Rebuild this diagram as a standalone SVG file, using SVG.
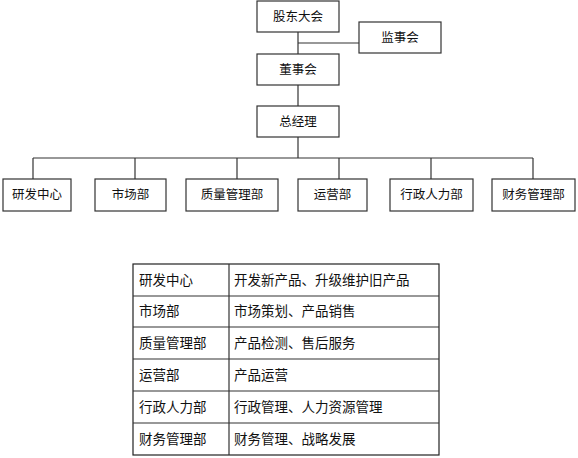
<svg xmlns="http://www.w3.org/2000/svg" width="578" height="458" viewBox="0 0 578 458">
<style>
.box{fill:#fff;stroke:#333;stroke-width:1.2}
.ln{stroke:#333;stroke-width:1.2;fill:none}
.t{font-family:"Liberation Sans","Noto Sans CJK SC",sans-serif;font-size:12.5px;fill:#111;text-anchor:middle;dominant-baseline:central}
.tt{font-family:"Liberation Sans","Noto Sans CJK SC",sans-serif;font-size:13.5px;fill:#111;dominant-baseline:central}
</style>
<rect width="578" height="458" fill="#fff"/>
<g id="connectors">
<line class="ln" x1="298" y1="32" x2="298" y2="54"/>
<line class="ln" x1="298" y1="43" x2="359" y2="43"/>
<line class="ln" x1="298" y1="85" x2="298" y2="106"/>
<line class="ln" x1="298" y1="137" x2="298" y2="158"/>
<line class="ln" x1="33" y1="158" x2="533" y2="158"/>
<line class="ln" x1="33" y1="158" x2="33" y2="179"/>
<line class="ln" x1="135" y1="158" x2="135" y2="179"/>
<line class="ln" x1="237" y1="158" x2="237" y2="179"/>
<line class="ln" x1="339" y1="158" x2="339" y2="179"/>
<line class="ln" x1="431" y1="158" x2="431" y2="179"/>
<line class="ln" x1="533" y1="158" x2="533" y2="179"/>
</g>
<g id="n-gudong"><rect class="box" x="257" y="1" width="82" height="31"/><text class="t" x="298" y="16.5">股东大会</text></g>
<g id="n-jianshi"><rect class="box" x="359" y="22" width="82" height="31"/><text class="t" x="400" y="37.5">监事会</text></g>
<g id="n-dongshi"><rect class="box" x="257" y="54" width="82" height="31"/><text class="t" x="298" y="69.5">董事会</text></g>
<g id="n-zongjingli"><rect class="box" x="257" y="106" width="82" height="31"/><text class="t" x="298" y="121.5">总经理</text></g>
<g id="n-yanfa"><rect class="box" x="3" y="179" width="68" height="32"/><text class="t" x="37" y="195">研发中心</text></g>
<g id="n-shichang"><rect class="box" x="95" y="179" width="71" height="32"/><text class="t" x="130.5" y="195">市场部</text></g>
<g id="n-zhiliang"><rect class="box" x="186" y="179" width="92" height="32"/><text class="t" x="232" y="195">质量管理部</text></g>
<g id="n-yunying"><rect class="box" x="298" y="179" width="69" height="32"/><text class="t" x="332.5" y="195">运营部</text></g>
<g id="n-xingzheng"><rect class="box" x="390" y="179" width="83" height="32"/><text class="t" x="431.5" y="195">行政人力部</text></g>
<g id="n-caiwu"><rect class="box" x="492" y="179" width="83" height="32"/><text class="t" x="533.5" y="195">财务管理部</text></g>
<g id="table">
<rect x="133" y="264" width="306" height="191" fill="#fff" stroke="#222" stroke-width="1.2"/>
<line class="ln" x1="229" y1="264" x2="229" y2="455"/>
<line class="ln" x1="133" y1="296" x2="439" y2="296"/>
<line class="ln" x1="133" y1="327" x2="439" y2="327"/>
<line class="ln" x1="133" y1="359" x2="439" y2="359"/>
<line class="ln" x1="133" y1="391" x2="439" y2="391"/>
<line class="ln" x1="133" y1="423" x2="439" y2="423"/>
<text class="tt" x="139" y="280">研发中心</text><text class="tt" x="234" y="280">开发新产品、升级维护旧产品</text>
<text class="tt" x="139" y="311.5">市场部</text><text class="tt" x="234" y="311.5">市场策划、产品销售</text>
<text class="tt" x="139" y="343">质量管理部</text><text class="tt" x="234" y="343">产品检测、售后服务</text>
<text class="tt" x="139" y="375">运营部</text><text class="tt" x="234" y="375">产品运营</text>
<text class="tt" x="139" y="407">行政人力部</text><text class="tt" x="234" y="407">行政管理、人力资源管理</text>
<text class="tt" x="139" y="439">财务管理部</text><text class="tt" x="234" y="439">财务管理、战略发展</text>
</g>
</svg>
